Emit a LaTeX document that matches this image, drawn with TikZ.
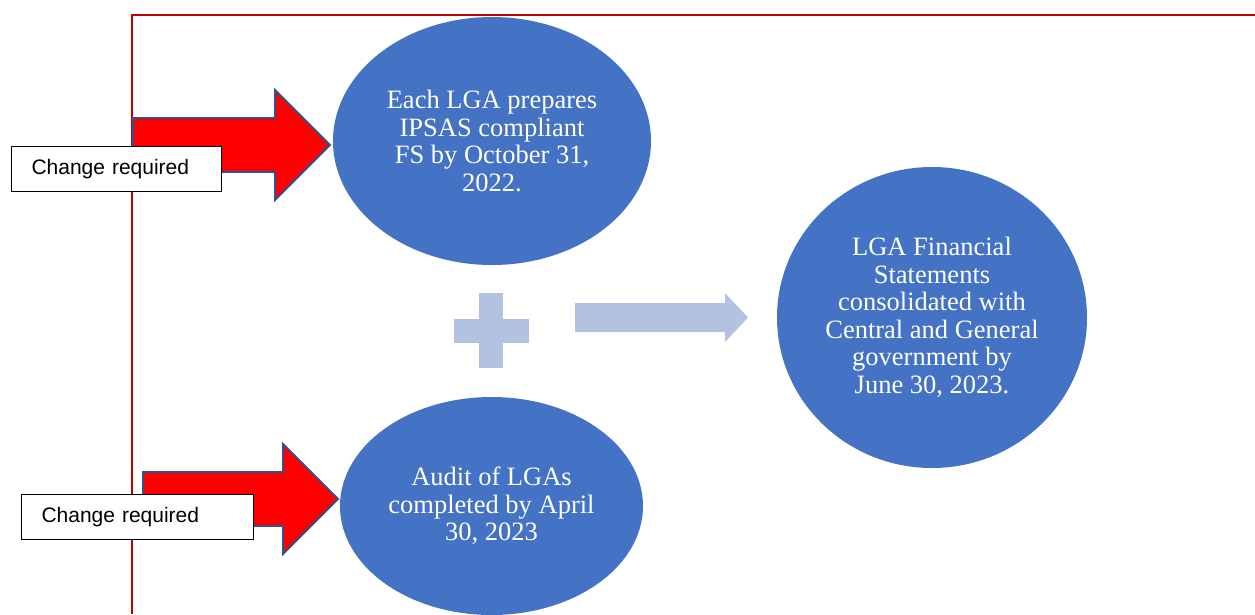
\documentclass[tikz,border=0pt]{standalone}
\usepackage{fontspec}
\setmainfont{Liberation Serif}
\newfontfamily\arialfont{Liberation Sans}
\usepackage{xcolor}
\usetikzlibrary{shapes.geometric, positioning}
\definecolor{lgablue}{HTML}{4472C4}
\definecolor{paleblue}{HTML}{B4C2E2}
\definecolor{framered}{HTML}{C00000}
\definecolor{edgeblue}{HTML}{2F528F}

\begin{document}
\begin{tikzpicture}[x=1pt, y=-1pt,
        stage/.style={
            ellipse,
            fill=lgablue,
            text=white,
            inner sep=0pt,
            align=center,
            font=\fontsize{26.5}{27.5}\selectfont},
        notebox/.style={
            draw=black,
            fill=white,
            line width=1pt,
            anchor=north west,
            inner xsep=20pt,
            inner ysep=0pt,
            minimum height=45pt,
            align=left,
            font=\arialfont\fontsize{21}{24}\selectfont},
        redarrow/.style={fill=red, draw=edgeblue, line width=1.8pt, line join=miter},
        palefill/.style={fill=paleblue}]

        \useasboundingbox (0,0) rectangle (1255,614);
        \draw[framered, line width=1.6pt] (132,614) -- (132,15) -- (1255,15);

        % red block arrows
        \filldraw[redarrow] (133,118) -- (275,118) -- (275,90) -- (330,145)
            -- (275,200) -- (275,172) -- (133,172) -- cycle;
        \filldraw[redarrow] (143,472) -- (283,472) -- (283,444) -- (338,499)
            -- (283,554) -- (283,526) -- (143,526) -- cycle;

        \node[notebox, text width=170pt] (change1) at (11,146) {\raisebox{-2pt}{Change required}};
        \node[notebox, text width=192pt] (change2) at (21,494) {\raisebox{-2pt}{Change required}};

        \node[stage, minimum width=318pt, minimum height=248pt] (prepare) at (492,141)
            {Each LGA prepares\\IPSAS compliant\\FS by October 31,\\2022.};
        \node[stage, minimum width=303pt, minimum height=218pt] (audit) at (491.5,506)
            {Audit of LGAs\\completed by April\\30, 2023};
        \node[stage, minimum width=310pt, minimum height=301pt] (consolidated) at (932,317.5)
            {LGA Financial\\Statements\\consolidated with\\Central and General\\government by\\June 30, 2023.};

        % plus sign and arrow
        \fill[palefill] (454,319) rectangle (529,343);
        \fill[palefill] (479,293) rectangle (503,368);
        \fill[palefill] (575,303) -- (725,303) -- (725,293) -- (748,317.5)
            -- (725,342) -- (725,332) -- (575,332) -- cycle;
    \end{tikzpicture}
\end{document}
